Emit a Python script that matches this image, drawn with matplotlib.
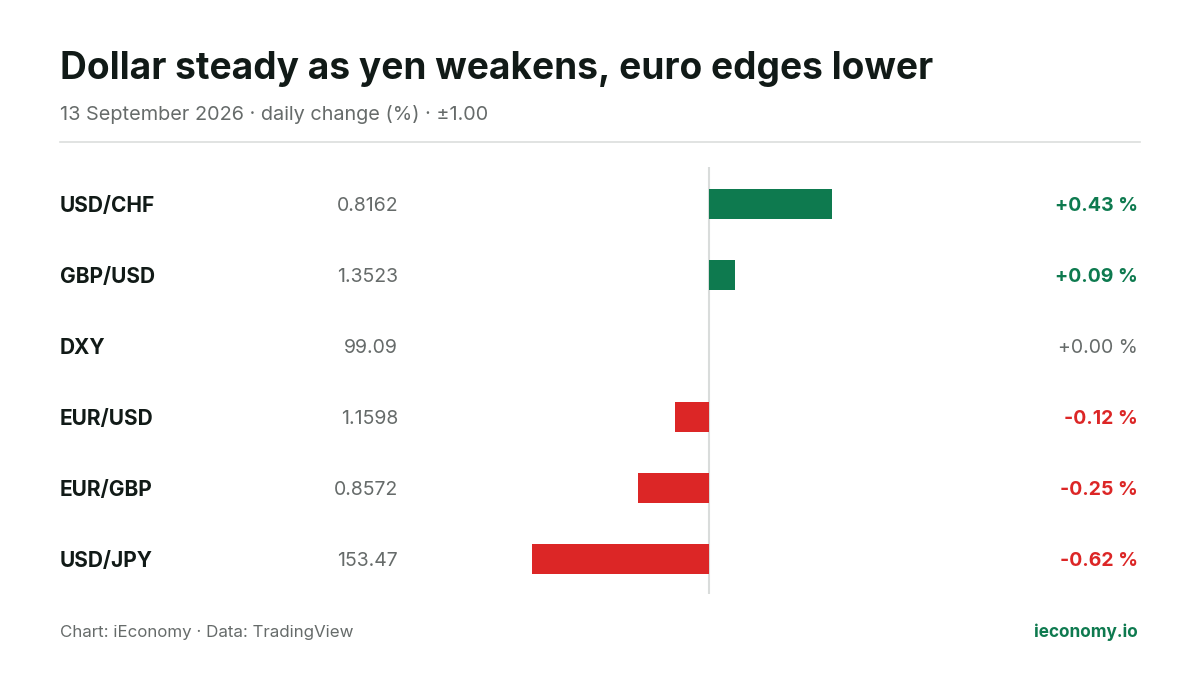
import matplotlib.pyplot as plt
from matplotlib.transforms import blended_transform_factory

plt.rcParams['font.family'] = ['Inter', 'DejaVu Sans']

pairs = ['USD/CHF', 'GBP/USD', 'DXY', 'EUR/USD', 'EUR/GBP', 'USD/JPY']
prices = ['0.8162', '1.3523', '99.09', '1.1598', '0.8572', '153.47']
changes = [0.43, 0.09, 0.00, -0.12, -0.25, -0.62]

GREEN = '#0e7a4f'
RED = '#dc2626'
GREY = '#666b6a'
DARK = '#111a17'

W, H = 1200, 675
fig = plt.figure(figsize=(12, 6.75), dpi=100)

def fx(px):
    return px / W

def fy(py):
    return 1 - py / H

# bars axis: x in [-1, 1] spans 423..995 px, rows at 204 + 71*i
ax = fig.add_axes([fx(423), fy(594), fx(995 - 423), (594 - 167) / H])
ax.set_xlim(-1, 1)
ax.set_ylim((594 - 204) / 71, (167 - 204) / 71)
ax.axis('off')

colors = [GREEN if c > 0 else RED if c < 0 else GREY for c in changes]
ax.barh(range(len(pairs)), changes, height=30 / 71, color=colors)
ax.axvline(0, color='#d9dcdb', lw=1.5, zorder=0)

tr = blended_transform_factory(fig.transFigure, ax.transData)
for i, (p, v, c, col) in enumerate(zip(pairs, prices, changes, colors)):
    y = i + 2 / 71
    ax.text(fx(60), y, p, transform=tr, ha='left', va='center',
            fontsize=15, fontweight='bold', color=DARK)
    ax.text(fx(398), y, v, transform=tr, ha='right', va='center',
            fontsize=14, color=GREY)
    ax.text(fx(1138), y, f'{c:+.2f} %', transform=tr, ha='right', va='center',
            fontsize=14, fontweight='bold' if c != 0 else 'normal', color=col)

fig.text(fx(60), fy(69), 'Dollar steady as yen weakens, euro edges lower',
         ha='left', va='center', fontsize=26.7, fontweight='bold', color=DARK)
fig.text(fx(60), fy(114), '13 September 2026 · daily change (%) · ±1.00',
         ha='left', va='center', fontsize=14.3, color=GREY)
fig.add_artist(plt.Line2D([fx(60), fx(1140)], [fy(142), fy(142)],
                          color='#dcdedd', lw=1.2))
fig.text(fx(60), fy(632), 'Chart: iEconomy · Data: TradingView',
         ha='left', va='center', fontsize=12.2, color=GREY)
fig.text(fx(1138), fy(632), 'ieconomy.io', ha='right', va='center',
         fontsize=12.4, fontweight='bold', color=GREEN)

fig.savefig('out.png', dpi=100, facecolor='white')
